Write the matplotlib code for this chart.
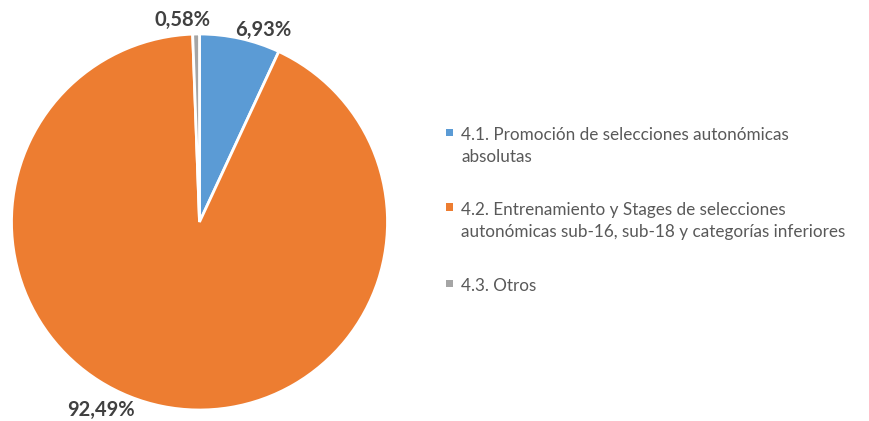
import matplotlib
matplotlib.use("Agg")
import matplotlib.pyplot as plt
from matplotlib.patches import Rectangle
import numpy as np

categories = [
    "4.1. Promoción de selecciones autonómicas\nabsolutas",
    "4.2. Entrenamiento y Stages de selecciones\nautonómicas sub-16, sub-18 y categorías inferiores",
    "4.3. Otros",
]
values = [6.93, 92.49, 0.58]
value_labels = ["6,93%", "92,49%", "0,58%"]
colors = ["#5B9BD5", "#ED7D31", "#A5A5A5"]

# label offsets (points) from the wedge's outer mid point
label_offsets = [(17, 6), (-44, -3), (-10, 10)]

W, H = 869, 421
fig = plt.figure(figsize=(W / 100, H / 100), dpi=100)
cx, cy, r = 199.5, 222, 188
ax = fig.add_axes([(cx - r) / W, (H - cy - r) / H, 2 * r / W, 2 * r / H])
wedges, _ = ax.pie(values, colors=colors, startangle=90, counterclock=False,
                   radius=1.0, wedgeprops=dict(edgecolor="white", linewidth=2))
ax.set_xlim(-1, 1)
ax.set_ylim(-1, 1)
ax.set_aspect("equal")
ax.axis("off")

for w, lab, off in zip(wedges, value_labels, label_offsets):
    ang = np.deg2rad((w.theta1 + w.theta2) / 2)
    x, y = np.cos(ang), np.sin(ang)
    ax.annotate(lab, xy=(x, y), xytext=off, textcoords="offset points",
                ha="center", va="center", fontsize=14.5, fontweight="bold",
                color="#404040", family="Lato", annotation_clip=False)

# manual legend (pixel layout)
entry_baselines = [140, 215, 291]
line_step = 22.5
text_x = 461
mk = 7
for cat, col, base in zip(categories, colors, entry_baselines):
    for i, line in enumerate(cat.split("\n")):
        fig.text(text_x / W, 1 - (base + i * line_step) / H, line,
                 ha="left", va="baseline", fontsize=12.3, family="Lato",
                 color="#595959")
    fig.patches.append(Rectangle(((449.5 - mk / 2) / W, 1 - (base - 8 + mk / 2) / H),
                                 mk / W, mk / H, transform=fig.transFigure,
                                 facecolor=col, edgecolor="none"))

fig.savefig("out.png", dpi=100)
